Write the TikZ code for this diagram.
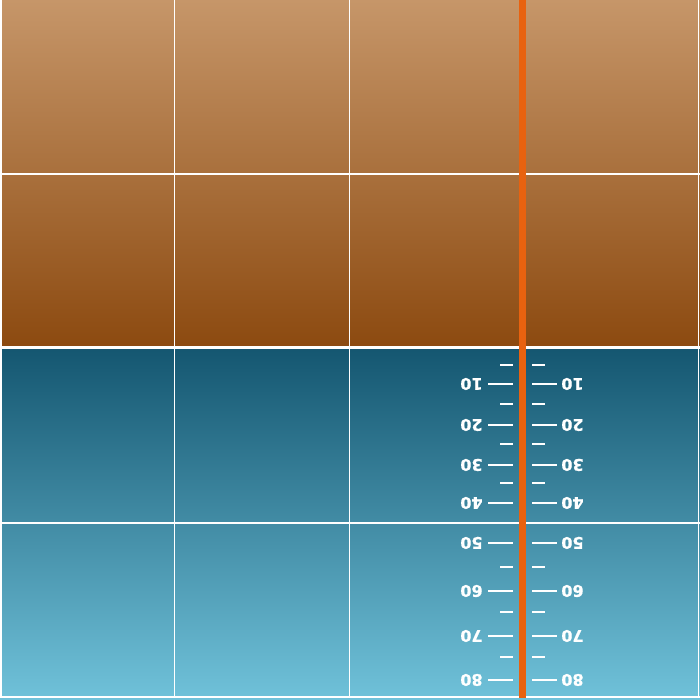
\documentclass[tikz,border=0pt]{standalone}
\usepackage{fontspec}
\setmainfont{DejaVu Sans}
\newfontfamily\lblfont{DejaVu Sans Bold}[FakeBold=0.8]
\definecolor{brownTop}{HTML}{C69669}
\definecolor{brownBot}{HTML}{8C4A10}
\definecolor{tealTop}{HTML}{145670}
\definecolor{tealBot}{HTML}{70C2DA}
\definecolor{rodOrange}{HTML}{E8620F}
\begin{document}
\begin{tikzpicture}[x=1pt,y=-1pt,
  gridline/.style={white,line width=1.5pt},
  midline/.style={white,line width=3pt},
  tickmark/.style={white,line width=2.4pt},
  rod/.style={rodOrange,line width=7pt},
  lbl/.style={text=white,font=\lblfont\fontsize{16}{16}\selectfont,rotate=180,inner sep=0pt,text height=11.7pt,text depth=0pt,anchor=center}]
\useasboundingbox (0,0) rectangle (700,700);
% backgrounds
\shade[top color=brownTop,bottom color=brownBot] (0,0) rectangle (700,347);
\shade[top color=tealTop,bottom color=tealBot] (0,347) rectangle (700,700);
% grid
\foreach \gx in {1,174.5,349.5,524,698.5} \draw[gridline] (\gx,0) -- (\gx,697.5);
\foreach \gy in {174,523,697} \draw[gridline] (0,\gy) -- (700,\gy);
\draw[midline] (0,347.5) -- (700,347.5);
% ticks
\foreach \ty/\lab in {384/10,425/20,465/30,503/40,543/50,591/60,636/70,680/80} {
  \draw[tickmark] (488,\ty) -- (513,\ty);
  \draw[tickmark] (532,\ty) -- (557,\ty);
  \node[lbl] (L\lab) at (471.5,\ty) {\lab};
  \node[lbl] (R\lab) at (572.5,\ty) {\lab};
}
\foreach \ty in {365,404,444,483,567,612,657} {
  \draw[tickmark] (500,\ty) -- (513,\ty);
  \draw[tickmark] (532,\ty) -- (545,\ty);
}
% rod
\draw[rod] (522.5,0) -- (522.5,697.5);
\end{tikzpicture}
\end{document}
